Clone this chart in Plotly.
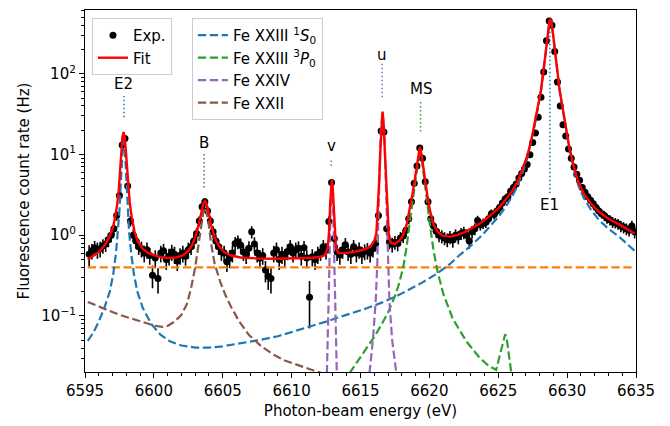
import math
import plotly.graph_objects as go

# ---------------- data ----------------
DATA_E = [
    6595.3, 6595.5, 6595.7, 6595.9, 6596.1, 6596.3, 6596.5, 6596.7, 6596.9, 6597.1,
    6597.3, 6597.5, 6597.7, 6597.9, 6598.1, 6598.3, 6598.5, 6598.7, 6598.9, 6599.1,
    6599.3, 6599.5, 6599.7, 6599.9, 6600.1, 6600.3, 6600.5, 6600.7, 6600.9, 6601.1,
    6601.3, 6601.5, 6601.7, 6601.9, 6602.1, 6602.3, 6602.5, 6602.7, 6602.9, 6603.1,
    6603.3, 6603.5, 6603.7, 6603.9, 6604.1, 6604.3, 6604.5, 6604.7, 6604.9, 6605.1,
    6605.3, 6605.5, 6605.7, 6605.9, 6606.1, 6606.3, 6606.5, 6606.7, 6606.9, 6607.1,
    6607.3, 6607.5, 6607.7, 6607.9, 6608.1, 6608.3, 6608.5, 6608.7, 6608.9, 6609.1,
    6609.3, 6609.5, 6609.7, 6609.9, 6610.1, 6610.3, 6610.5, 6610.7, 6610.9, 6611.1,
    6611.3, 6611.5, 6611.7, 6611.9, 6612.1, 6612.3, 6612.5, 6612.7, 6612.9, 6613.1,
    6613.3, 6613.5, 6613.7, 6613.9, 6614.1, 6614.3, 6614.5, 6614.7, 6614.9, 6615.1,
    6615.3, 6615.5, 6615.7, 6615.9, 6616.1, 6616.3, 6616.5, 6616.7, 6616.9, 6617.1,
    6617.3, 6617.5, 6617.7, 6617.9, 6618.1, 6618.3, 6618.5, 6618.7, 6618.9, 6619.1,
    6619.3, 6619.5, 6619.7, 6619.9, 6620.1, 6620.3, 6620.5, 6620.7, 6620.9, 6621.1,
    6621.3, 6621.5, 6621.7, 6621.9, 6622.1, 6622.3, 6622.5, 6622.7, 6622.9, 6623.1,
    6623.3, 6623.5, 6623.7, 6623.9, 6624.1, 6624.3, 6624.5, 6624.7, 6624.9, 6625.1,
    6625.3, 6625.5, 6625.7, 6625.9, 6626.1, 6626.3, 6626.5, 6626.7, 6626.9, 6627.1,
    6627.3, 6627.5, 6627.7, 6627.9, 6628.1, 6628.3, 6628.5, 6628.7, 6628.9, 6629.1,
    6629.3, 6629.5, 6629.7, 6629.9, 6630.1, 6630.3, 6630.5, 6630.7, 6630.9, 6631.1,
    6631.3, 6631.5, 6631.7, 6631.9, 6632.1, 6632.3, 6632.5, 6632.7, 6632.9, 6633.1,
    6633.3, 6633.5, 6633.7, 6633.9, 6634.1, 6634.3, 6634.5, 6634.7, 6634.9,
]
DATA_Y = [
    0.58, 0.64, 0.70, 0.66, 0.68, 0.74, 0.78, 0.88, 1.0, 1.2,
    1.75, 3.1, 13.1, 15.8, 4.06, 1.5, 1.0, 0.85, 0.72, 0.68,
    0.60, 0.66, 0.56, 0.32, 0.52, 0.29, 0.60, 0.64, 0.50, 0.55,
    0.62, 0.58, 0.48, 0.56, 0.60, 0.55, 0.66, 0.72, 0.85, 1.05,
    1.5, 2.25, 2.6, 2.0, 1.5, 1.1, 0.85, 0.72, 0.62, 0.60,
    0.47, 0.52, 0.60, 0.79, 0.83, 0.75, 0.62, 0.58, 0.69, 1.1,
    0.78, 0.60, 0.52, 0.56, 0.37, 0.31, 0.29, 0.60, 0.66, 0.50,
    0.58, 0.54, 0.63, 0.72, 0.60, 0.66, 0.69, 0.55, 0.70, 0.52,
    0.17, 0.54, 0.50, 0.58, 0.62, 0.72, 0.65, 1.48, 4.5, 0.91,
    0.62, 0.57, 0.66, 0.76, 0.62, 0.58, 0.72, 0.60, 0.66, 0.58,
    0.63, 0.65, 0.60, 0.68, 0.79, 1.75, 19.6, 19.0, 1.2, 0.83,
    0.77, 0.82, 0.79, 0.92, 0.98, 1.15, 1.6, 2.6, 4.4, 7.2,
    12.0, 9.0, 4.6, 2.6, 1.6, 1.3, 1.12, 1.0, 0.97, 0.92,
    0.88, 0.95, 0.87, 1.0, 0.95, 1.05, 1.08, 1.0, 0.85, 1.1,
    1.2, 1.52, 1.35, 1.4, 1.45, 1.6, 1.84, 1.8, 2.0, 2.2,
    2.5, 2.8, 3.0, 3.5, 3.9, 4.3, 5.1, 5.8, 6.6, 7.5,
    9.9, 14.1, 18.5, 29.0, 51.0, 105.0, 257.0, 450.0, 400.0, 189.0,
    79.0, 40.0, 23.4, 17.0, 11.7, 9.0, 7.0, 5.7, 4.8, 3.9,
    3.4, 3.0, 2.7, 2.45, 2.2, 2.0, 1.85, 1.75, 1.62, 1.55,
    1.45, 1.42, 1.38, 1.3, 1.25, 1.2, 1.15, 1.3, 1.1,
]
DATA_ERR = [
    0.17, 0.14, 0.15, 0.15, 0.15, 0.15, 0.16, 0.17, 0.18, 0.20,
    0.24, 0.32, 0.65, 0.72, 0.36, 0.22, 0.18, 0.17, 0.15, 0.15,
    0.14, 0.15, 0.13, 0.10, 0.13, 0.10, 0.14, 0.14, 0.13, 0.13,
    0.14, 0.14, 0.12, 0.13, 0.14, 0.13, 0.15, 0.15, 0.17, 0.18,
    0.22, 0.27, 0.29, 0.25, 0.22, 0.19, 0.17, 0.15, 0.14, 0.14,
    0.12, 0.13, 0.14, 0.16, 0.16, 0.16, 0.14, 0.14, 0.15, 0.19,
    0.16, 0.14, 0.13, 0.13, 0.11, 0.10, 0.10, 0.14, 0.15, 0.13,
    0.14, 0.13, 0.14, 0.15, 0.14, 0.15, 0.15, 0.13, 0.15, 0.13,
    0.10, 0.13, 0.13, 0.14, 0.14, 0.15, 0.15, 0.22, 0.38, 0.17,
    0.14, 0.14, 0.15, 0.16, 0.14, 0.14, 0.15, 0.14, 0.15, 0.14,
    0.14, 0.15, 0.14, 0.15, 0.16, 0.24, 0.80, 0.78, 0.20, 0.16,
    0.16, 0.16, 0.16, 0.17, 0.18, 0.19, 0.23, 0.29, 0.38, 0.48,
    0.62, 0.54, 0.39, 0.29, 0.23, 0.21, 0.19, 0.18, 0.18, 0.17,
    0.17, 0.18, 0.17, 0.18, 0.18, 0.18, 0.19, 0.18, 0.17, 0.19,
    0.20, 0.22, 0.21, 0.21, 0.22, 0.23, 0.24, 0.24, 0.25, 0.27,
    0.28, 0.30, 0.31, 0.34, 0.36, 0.37, 0.41, 0.43, 0.46, 0.49,
    0.57, 0.68, 0.77, 0.97, 1.3, 1.8, 2.9, 3.8, 3.6, 2.5,
    1.6, 1.14, 0.87, 0.74, 0.62, 0.54, 0.48, 0.43, 0.39, 0.36,
    0.33, 0.31, 0.30, 0.28, 0.27, 0.25, 0.24, 0.24, 0.23, 0.22,
    0.22, 0.21, 0.21, 0.21, 0.20, 0.20, 0.19, 0.21, 0.19,
]

FIT_E = [
    6595.2, 6595.6, 6596.0, 6596.4, 6596.8, 6597.0, 6597.2, 6597.35, 6597.45, 6597.55,
    6597.65, 6597.72, 6597.8, 6597.88, 6597.95, 6598.05, 6598.15, 6598.25, 6598.4, 6598.6,
    6598.85, 6599.2, 6599.6, 6600.2, 6601.0, 6601.6, 6602.1, 6602.5, 6602.8, 6603.05,
    6603.25, 6603.45, 6603.6, 6603.7, 6603.8, 6603.95, 6604.15, 6604.4, 6604.7, 6605.1,
    6605.6, 6606.3, 6607.5, 6609.0, 6610.5, 6611.5, 6612.1, 6612.45, 6612.62, 6612.72,
    6612.8, 6612.86, 6612.92, 6612.98, 6613.04, 6613.12, 6613.22, 6613.4, 6613.8, 6614.5,
    6615.2, 6615.7, 6616.0, 6616.15, 6616.25, 6616.35, 6616.45, 6616.53, 6616.6, 6616.67,
    6616.75, 6616.85, 6616.95, 6617.05, 6617.2, 6617.5, 6617.8, 6618.1, 6618.35, 6618.55,
    6618.77, 6618.95, 6619.07, 6619.2, 6619.31, 6619.43, 6619.55, 6619.67, 6619.84, 6620.05,
    6620.3, 6620.6, 6621.0, 6621.5, 6622.0, 6622.6, 6623.2, 6623.8, 6624.4, 6625.0,
    6625.5, 6626.0, 6626.4, 6626.8, 6627.1, 6627.4, 6627.65, 6627.9, 6628.1, 6628.3,
    6628.48, 6628.62, 6628.72, 6628.78, 6628.84, 6628.94, 6629.08, 6629.26, 6629.46, 6629.65,
    6629.9, 6630.15, 6630.45, 6630.8, 6631.2, 6631.7, 6632.3, 6633.0, 6633.8, 6634.9,
]
FIT_Y = [
    0.50, 0.55, 0.62, 0.74, 0.98, 1.2, 1.7, 2.5, 3.6, 6.5,
    12.0, 16.5, 19.0, 16.5, 12.0, 6.5, 3.6, 2.5, 1.65, 1.1,
    0.82, 0.68, 0.60, 0.55, 0.52, 0.53, 0.56, 0.64, 0.77, 1.0,
    1.35, 2.0, 2.5, 2.65, 2.5, 2.0, 1.35, 0.95, 0.74, 0.62,
    0.56, 0.53, 0.515, 0.51, 0.515, 0.525, 0.54, 0.57, 0.70, 1.1,
    2.5, 4.0, 4.9, 4.0, 2.5, 1.1, 0.70, 0.60, 0.60, 0.62,
    0.66, 0.72, 0.85, 1.05, 2.0, 4.5, 12.0, 25.0, 34.0, 25.0,
    12.0, 4.5, 2.0, 1.05, 0.80, 0.78, 0.85, 1.0, 1.35, 2.0,
    3.2, 5.0, 6.8, 10.0, 12.5, 10.0, 6.8, 5.0, 3.2, 2.0,
    1.35, 1.1, 0.98, 0.96, 1.0, 1.1, 1.25, 1.45, 1.75, 2.15,
    2.7, 3.5, 4.6, 6.8, 9.5, 15.0, 24.0, 40.0, 62.0, 115.0,
    220.0, 350.0, 450.0, 468.0, 450.0, 350.0, 220.0, 115.0, 62.0, 40.0,
    22.0, 12.5, 7.5, 4.6, 3.3, 2.5, 1.95, 1.6, 1.35, 1.05,
]

# Fe XXIII 1S0 component (blue)
S0_E = [
    6595.2, 6595.6, 6596.0, 6596.4, 6596.8, 6597.05, 6597.25, 6597.4, 6597.5, 6597.6,
    6597.7, 6597.8, 6597.9, 6598.0, 6598.1, 6598.2, 6598.35, 6598.55, 6598.8, 6599.2,
    6599.8, 6600.5, 6601.2, 6602.0, 6603.0, 6604.0, 6605.0, 6606.4, 6607.6, 6609.0,
    6610.3, 6611.3, 6612.5, 6613.5, 6614.5, 6615.5, 6616.5, 6617.6, 6618.6, 6619.5,
    6620.5, 6621.5, 6622.0, 6622.6, 6623.2, 6623.8, 6624.4, 6625.0, 6625.5, 6626.0,
    6626.4, 6626.8, 6627.1, 6627.4, 6627.65, 6627.9, 6628.1, 6628.3, 6628.48, 6628.62,
    6628.72, 6628.78, 6628.84, 6628.94, 6629.08, 6629.26, 6629.46, 6629.65, 6629.9, 6630.15,
    6630.45, 6630.8, 6631.2, 6631.7, 6632.3, 6633.0, 6633.8, 6634.9,
]
S0_Y = [
    0.049, 0.062, 0.085, 0.125, 0.20, 0.33, 0.60, 1.1, 2.0, 4.5,
    11.0, 17.5, 11.0, 4.5, 2.0, 1.1, 0.60, 0.33, 0.20, 0.125,
    0.080, 0.058, 0.048, 0.043, 0.0405, 0.0405, 0.042, 0.046, 0.050, 0.056,
    0.065, 0.073, 0.085, 0.097, 0.11, 0.125, 0.145, 0.175, 0.215, 0.26,
    0.33, 0.44, 0.53, 0.64, 0.79, 0.99, 1.28, 1.68, 2.2, 3.0,
    4.1, 6.2, 9.0, 14.5, 23.0, 39.0, 61.0, 114.0, 219.0, 349.0,
    449.0, 467.0, 449.0, 349.0, 219.0, 114.0, 61.0, 39.0, 21.5, 12.0,
    7.1, 4.2, 2.9, 2.1, 1.55, 1.2, 0.95, 0.64,
]

# Fe XXIII 3P0 component (green)
P0_E = [
    6614.2, 6614.45, 6615.0, 6615.5, 6616.0, 6616.5, 6617.0, 6617.5, 6617.8, 6618.1,
    6618.35, 6618.55, 6618.77, 6618.95, 6619.07, 6619.2, 6619.31, 6619.43, 6619.55, 6619.67,
    6619.84, 6620.05, 6620.3, 6620.6, 6621.0, 6621.7, 6622.7, 6623.6, 6624.3, 6624.85,
    6625.2, 6625.5, 6625.6, 6625.75, 6625.95,
]
P0_Y = [
    0.0195, 0.0225, 0.031, 0.040, 0.055, 0.077, 0.11, 0.175, 0.25, 0.40,
    0.72, 1.35, 2.55, 4.35, 6.1, 9.3, 11.8, 9.3, 6.1, 4.35,
    2.55, 1.3, 0.65, 0.35, 0.19, 0.092, 0.048, 0.031, 0.024, 0.0215,
    0.036, 0.059, 0.055, 0.034, 0.0195,
]

# Fe XXIV component (purple): lines v and u
XXIV_E = [
    6612.56, 6612.66, 6612.74, 6612.82, 6612.92, 6613.02, 6613.1, 6613.18, 6613.28, None,
    6615.65, 6615.9, 6616.1, 6616.22, 6616.35, 6616.47, 6616.6, 6616.73, 6616.85, 6616.98,
    6617.1, 6617.3, 6617.6,
]
XXIV_Y = [
    0.0195, 0.08, 0.4, 1.9, 4.4, 1.9, 0.4, 0.08, 0.0195, None,
    0.0195, 0.05, 0.15, 0.45, 3.8, 20.0, 33.2, 20.0, 3.8, 0.45,
    0.15, 0.05, 0.0195,
]

# Fe XXII component (brown)
XXII_E = [
    6595.2, 6596.0, 6596.8, 6597.6, 6598.5, 6599.3, 6600.0, 6600.6, 6601.0, 6601.5,
    6602.0, 6602.4, 6602.7, 6603.0, 6603.25, 6603.45, 6603.6, 6603.7, 6603.8, 6603.95,
    6604.15, 6604.4, 6604.8, 6605.2, 6605.6, 6606.2, 6606.9, 6607.8, 6608.7, 6609.5,
    6610.3, 6611.0, 6611.8, 6612.2,
]
XXII_Y = [
    0.149, 0.13, 0.115, 0.102, 0.091, 0.083, 0.076, 0.073, 0.075, 0.085,
    0.103, 0.14, 0.22, 0.40, 0.80, 1.5, 2.0, 2.2, 2.0, 1.5,
    0.80, 0.45, 0.27, 0.18, 0.13, 0.085, 0.058, 0.042, 0.033, 0.028,
    0.025, 0.0225, 0.0205, 0.0195,
]

# constant background (orange)
BG_E = [6595.2, 6634.9]
BG_Y = [0.4, 0.4]

# line labels: (text, energy, label height, marker-line bottom, marker-line top, colour)
LABELS = [
    ("E2", 6597.83, 74.0, 29.0, 53.0, "#1f77b4"),
    ("B", 6603.65, 13.7, 3.9, 10.4, "#8c564b"),
    ("v", 6612.88, 12.6, 7.2, 9.0, "#9467bd"),
    ("u", 6616.58, 172.0, 51.0, 133.0, "#9467bd"),
    ("MS", 6619.36, 64.5, 19.2, 47.0, "#2ca02c"),
    ("E1", 6628.75, 2.34, 3.3, 430.0, "#1f77b4"),
]

X_TICKS = [6595, 6600, 6605, 6610, 6615, 6620, 6625, 6630, 6635]
Y_TICKS = [0.1, 1, 10, 100]
Y_TICK_TEXT = ["10<sup>\u22121</sup>", "10<sup>0</sup>", "10<sup>1</sup>", "10<sup>2</sup>"]

# ---------------- figure ----------------
FONT = "DejaVu Sans"
DASH = "8.3px,3.6px"
fig = go.Figure()

fig.add_trace(go.Scatter(
    x=DATA_E, y=DATA_Y, mode="markers", name="Exp.",
    marker=dict(color="black", size=7),
    error_y=dict(type="data", array=DATA_ERR, color="black", thickness=1.6, width=0),
    legend="legend", legendrank=1,
))

fig.add_trace(go.Scatter(
    x=BG_E, y=BG_Y, mode="lines", showlegend=False,
    line=dict(color="#ff7f0e", width=2.2, dash=DASH),
))
comps = [
    (S0_E, S0_Y, "#1f77b4", "Fe XXIII <sup>1</sup><i>S</i><sub>0</sub>"),
    (P0_E, P0_Y, "#2ca02c", "Fe XXIII <sup>3</sup><i>P</i><sub>0</sub>"),
    (XXIV_E, XXIV_Y, "#9467bd", "Fe XXIV"),
    (XXII_E, XXII_Y, "#8c564b", "Fe XXII"),
]
for i, (xe, ye, col, nm) in enumerate(comps):
    fig.add_trace(go.Scatter(
        x=xe, y=ye, mode="lines", name=nm, connectgaps=False,
        line=dict(color=col, width=2.2, dash=DASH),
        legend="legend2", legendrank=10 + i,
    ))

for txt, ex, ly, y0, y1, col in LABELS:
    fig.add_trace(go.Scatter(
        x=[ex, ex], y=[y0, y1], mode="lines", showlegend=False,
        line=dict(color=col, width=1.5, dash="1.5px,2.5px"),
    ))
    fig.add_annotation(
        x=ex, y=math.log10(ly), xref="x", yref="y", text=txt, showarrow=False,
        font=dict(family=FONT, size=15, color="black"),
        xanchor="center", yanchor="middle",
    )

fig.add_trace(go.Scatter(
    x=FIT_E, y=FIT_Y, mode="lines", name="Fit",
    line=dict(color="red", width=2.4),
    legend="legend", legendrank=2,
))

minor_y = [m * 10 ** d for d in range(-2, 3) for m in range(2, 10)]

axis_common = dict(
    showline=True, linecolor="black", linewidth=1.2, mirror=True,
    ticks="outside", ticklen=5, tickwidth=1.2, tickcolor="black",
    showgrid=False, zeroline=False,
    tickfont=dict(family=FONT, size=15, color="black"),
)

fig.update_layout(
    width=670, height=426,
    margin=dict(l=85, r=34, t=9, b=49),
    paper_bgcolor="white", plot_bgcolor="white",
    font=dict(family=FONT, size=15, color="black"),
    xaxis=dict(
        range=[6595, 6635], tickmode="array", tickvals=X_TICKS,
        ticktext=[str(t) for t in X_TICKS],
        minor=dict(dtick=1, ticks="outside", ticklen=3, tickwidth=0.9, tickcolor="black"),
        title=dict(text="Photon-beam energy (eV)", font=dict(family=FONT, size=15), standoff=6),
        **axis_common,
    ),
    yaxis=dict(
        type="log", range=[-1.695, 2.79], tickmode="array",
        tickvals=Y_TICKS, ticktext=Y_TICK_TEXT,
        minor=dict(tickmode="array", tickvals=minor_y, ticks="outside",
                   ticklen=3, tickwidth=0.9, tickcolor="black"),
        title=dict(text="Fluorescence count rate (Hz)", font=dict(family=FONT, size=15), standoff=8),
        **axis_common,
    ),
    legend=dict(
        x=0.0127, y=0.978, xanchor="left", yanchor="top",
        bgcolor="rgba(255,255,255,0.85)", bordercolor="#cccccc", borderwidth=1,
        font=dict(family=FONT, size=15),
    ),
    legend2=dict(
        x=0.194, y=0.978, xanchor="left", yanchor="top",
        bgcolor="rgba(255,255,255,0.85)", bordercolor="#cccccc", borderwidth=1,
        font=dict(family=FONT, size=15),
    ),
)

fig.write_html("out.html")
